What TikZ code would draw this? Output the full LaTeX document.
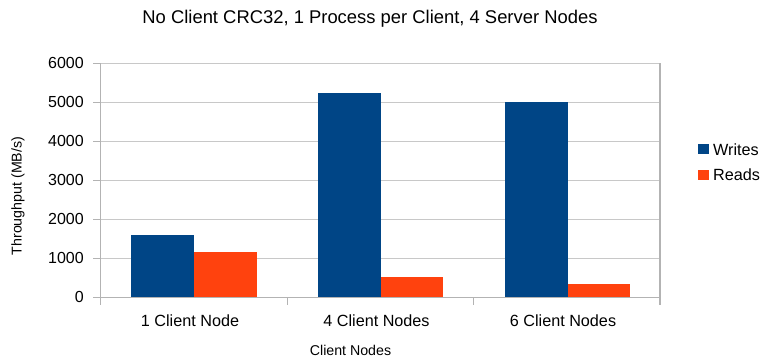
\documentclass[tikz,border=0pt]{standalone}
\usepackage{fontspec}
\setmainfont{Liberation Sans}
\definecolor{wr}{HTML}{004586}
\definecolor{rd}{HTML}{FF420E}
\definecolor{gridc}{HTML}{C8C8C8}
\definecolor{axisc}{HTML}{B3B3B3}
\begin{document}
\begin{tikzpicture}[x=1bp,y=-1bp,
  gridline/.style={draw=gridc,line width=1.1bp},
  axisline/.style={draw=axisc,line width=1.1bp},
  bigtxt/.style={font=\fontsize{16.2bp}{19bp}\selectfont,inner sep=0pt},
  ticktxt/.style={font=\fontsize{16bp}{19bp}\selectfont,inner sep=0pt,anchor=east},
  axtitle/.style={font=\fontsize{14.2bp}{17bp}\selectfont,inner sep=0pt},
  wbar/.style={fill=wr},
  rbar/.style={fill=rd}]
\useasboundingbox (0,0) rectangle (763,360);
% grid
\foreach \v in {1,...,6}{
  \draw[gridline] (100.7,{297.3-39*\v}) -- (660,{297.3-39*\v});
  \draw[axisline] (93,{297.3-39*\v}) -- (100.7,{297.3-39*\v});
}
\draw[axisline] (93,297.3) -- (100.7,297.3);
% tick labels
\foreach \v/\t in {0/0,1/1000,2/2000,3/3000,4/4000,5/5000,6/6000}{
  \node[ticktxt] (yl\v) at (84,{297.3-39*\v}) {\t};
}
% bars
\fill[wbar] (131,297.3) rectangle (194,{297.3-0.039*1597});
\fill[rbar] (194,297.3) rectangle (257,{297.3-0.039*1160});
\fill[wbar] (318,297.3) rectangle (381,{297.3-0.039*5240});
\fill[rbar] (381,297.3) rectangle (443,{297.3-0.039*520});
\fill[wbar] (505,297.3) rectangle (568,{297.3-0.039*5000});
\fill[rbar] (568,297.3) rectangle (630,{297.3-0.039*340});
% axes
\draw[axisline] (100.7,63.3) -- (100.7,297.3);
\draw[axisline] (660,63.3) -- (660,297.3);
\draw[axisline] (100.7,297.3) -- (660,297.3);
\foreach \x in {100.7,287.3,473.7,660}{
  \draw[axisline] (\x,297.3) -- (\x,304.5);
}
% category labels
\node[bigtxt,anchor=base] (c1) at (190,326) {1 Client Node};
\node[bigtxt,anchor=base] (c2) at (376.5,326) {4 Client Nodes};
\node[bigtxt,anchor=base] (c3) at (563,326) {6 Client Nodes};
% axis titles
\node[axtitle,anchor=base] (xt) at (350.5,355) {Client Nodes};
\node[axtitle,rotate=90] (yt) at (18,196) {Throughput (MB/s)};
% title
\node[font=\fontsize{18.4bp}{22bp}\selectfont,inner sep=0pt,anchor=base] (title) at (370,23.5) {No Client CRC32, 1 Process per Client, 4 Server Nodes};
% legend
\fill[wbar] (698,144) rectangle (709,154);
\fill[rbar] (698,170) rectangle (709,180);
\node[bigtxt,anchor=west] (lw) at (713,149.5) {Writes};
\node[bigtxt,anchor=west] (lr) at (713,175) {Reads};
\end{tikzpicture}
\end{document}
